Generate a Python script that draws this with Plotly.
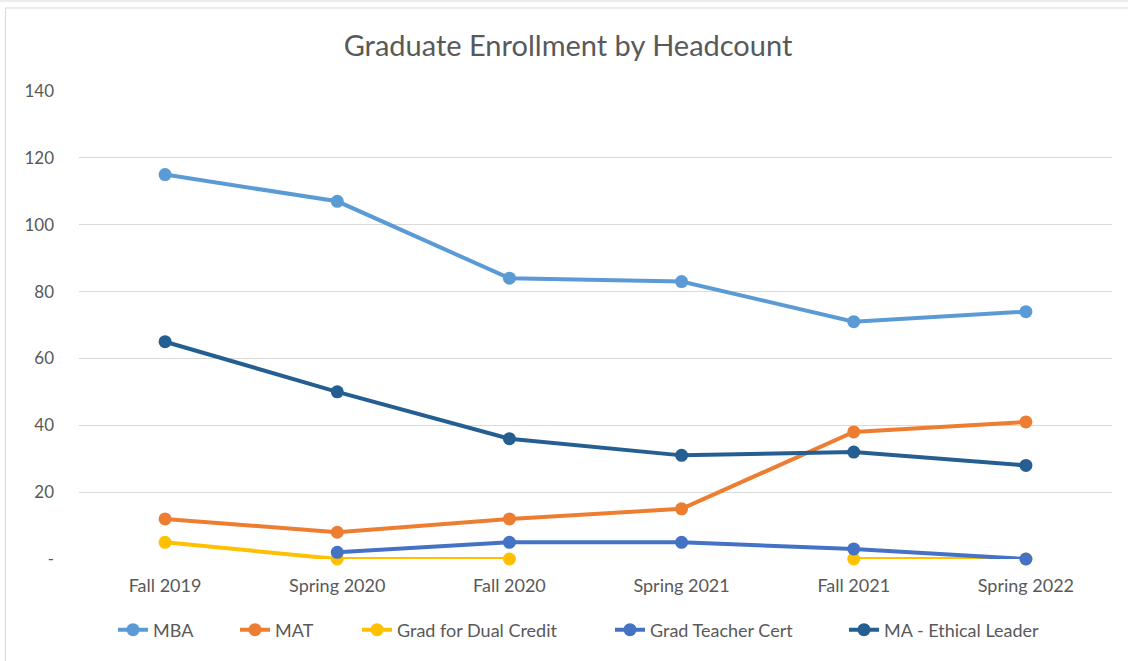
import plotly.graph_objects as go

categories = ["Fall 2019", "Spring 2020", "Fall 2020", "Spring 2021", "Fall 2021", "Spring 2022"]
mba = [115, 107, 84, 83, 71, 74]
mat = [12, 8, 12, 15, 38, 41]
dual_credit = [5, 0, 0, None, 0, 0]
teacher_cert = [None, 2, 5, 5, 3, 0]
ethical_leader = [65, 50, 36, 31, 32, 28]
y_ticks = [0, 20, 40, 60, 80, 100, 120, 140]
y_tick_labels = ["-", "20", "40", "60", "80", "100", "120", "140"]

series = [
    ("MBA", mba, "#5B9BD5"),
    ("MAT", mat, "#ED7D31"),
    ("Grad for Dual Credit", dual_credit, "#FFC000"),
    ("Grad Teacher Cert", teacher_cert, "#4472C4"),
    ("MA - Ethical Leader", ethical_leader, "#255E91"),
]
# pixel x where each legend label's text starts in the reference
legend_text_x = [153, 275, 397, 650, 884]

W, H = 1128, 661
L, R, T, B = 79, 16, 91, 102
FONT = "Lato, Calibri, Carlito, sans-serif"
GREY = "#595959"

pw, ph = W - L - R, H - T - B
def px(x):
    return (x - L) / pw
def py(y):
    return (H - B - y) / ph

fig = go.Figure()
legends = {}
for i, (name, vals, color) in enumerate(series):
    key = "legend" if i == 0 else f"legend{i+1}"
    fig.add_trace(go.Scatter(
        x=categories, y=vals, name=name, mode="lines+markers",
        line=dict(color=color, width=4),
        marker=dict(color=color, size=13),
        connectgaps=False, legend=key, cliponaxis=False,
    ))
    legends[key] = dict(
        orientation="h", x=px(legend_text_x[i] - 40), xanchor="left",
        y=py(630), yanchor="middle", font=dict(size=18, color=GREY, family=FONT),
        bgcolor="rgba(0,0,0,0)", borderwidth=0,
    )

shapes = [
    dict(type="line", xref="paper", yref="paper", x0=px(0), x1=px(W), y0=py(1), y1=py(1),
         line=dict(color="#D9D9D9", width=1)),
    dict(type="line", xref="paper", yref="paper", x0=px(5), x1=px(W), y0=py(8), y1=py(8),
         line=dict(color="#D9D9D9", width=1)),
    dict(type="line", xref="paper", yref="paper", x0=px(5.5), x1=px(5.5), y0=py(8), y1=py(H),
         line=dict(color="#D9D9D9", width=1)),
]

fig.update_layout(
    width=W, height=H,
    margin=dict(l=L, r=R, t=T, b=B),
    paper_bgcolor="white", plot_bgcolor="white",
    font=dict(family=FONT, color=GREY, size=18),
    title=dict(text="Graduate Enrollment by Headcount", x=568 / W, xref="container",
               xanchor="center", y=1 - 46 / H, yref="container", yanchor="middle",
               font=dict(size=29, color=GREY, family=FONT)),
    showlegend=True,
    shapes=shapes,
    xaxis=dict(type="category", range=[-0.5, 5.5], showgrid=False, zeroline=False,
               showline=False, ticks="", ticklabelstandoff=14,
               tickfont=dict(size=18, color=GREY)),
    yaxis=dict(range=[0, 140], tickvals=y_ticks, ticktext=y_tick_labels,
               showgrid=True, gridcolor="#D9D9D9", gridwidth=1.3, zeroline=False,
               showline=False, ticks="", ticklabelstandoff=24,
               tickfont=dict(size=17, color=GREY)),
    **legends,
)

fig.write_html("out.html", config={"displayModeBar": False},
               post_script="document.body.style.margin='0';document.body.style.overflow='hidden';")
